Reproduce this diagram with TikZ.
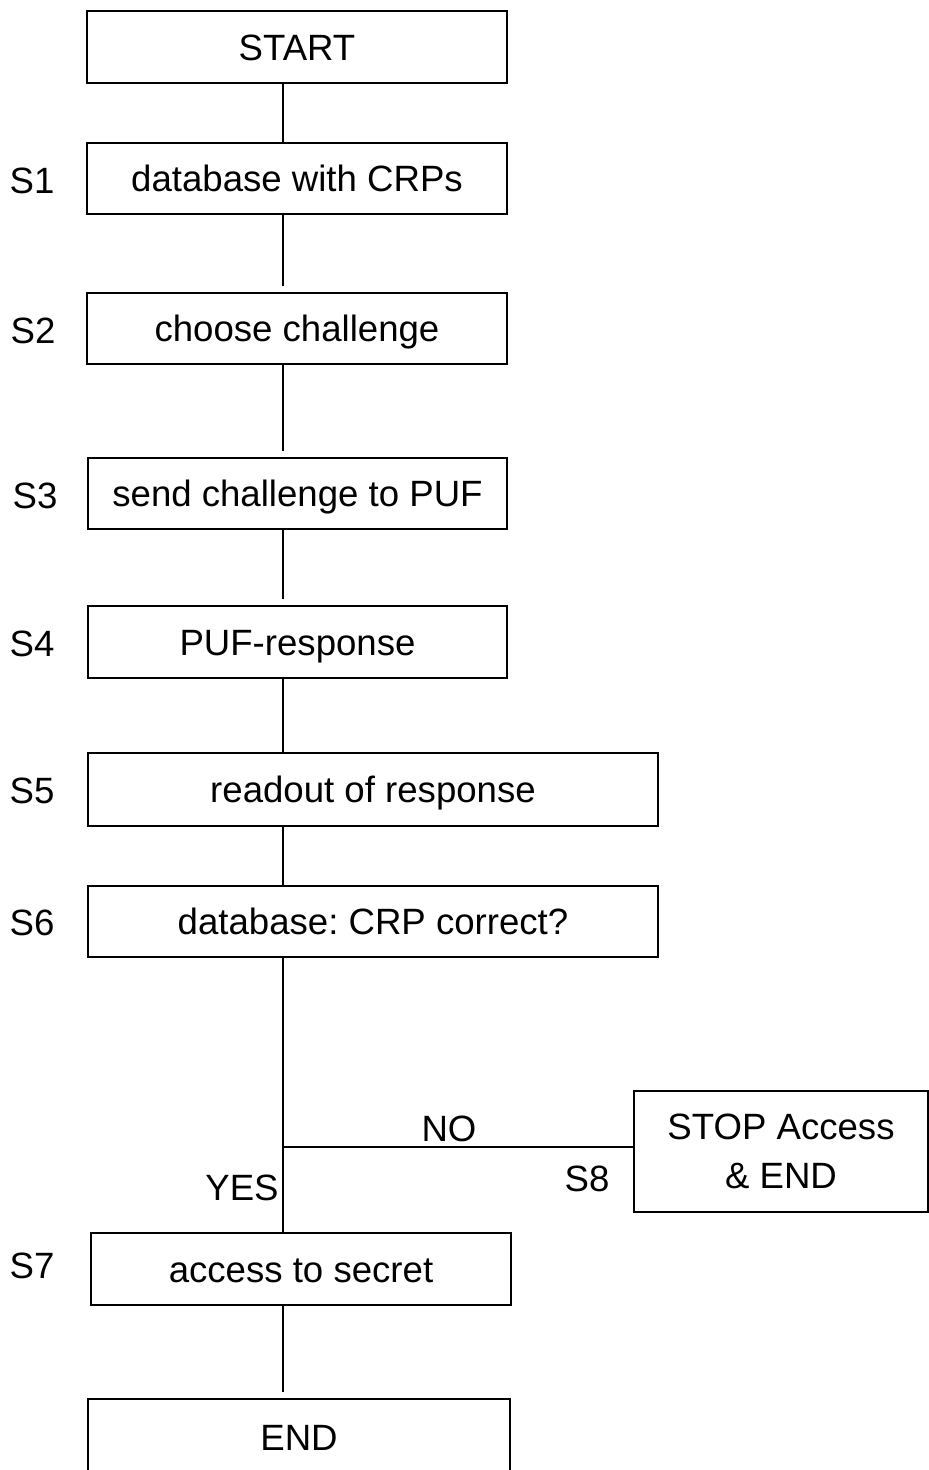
\documentclass[tikz,border=0pt]{standalone}
\usepackage{fontspec}
\setmainfont{Liberation Sans}
\newcommand{\diagfont}{\fontsize{18.3pt}{24.5pt}\selectfont\frenchspacing}
\begin{document}
\begin{tikzpicture}[x=0.5pt,y=-0.5pt,
  box/.style={draw, line width=1pt, inner sep=0pt, outer sep=0pt,
    text height=13.1pt, text depth=0pt, font=\diagfont},
  lbl/.style={inner sep=0pt, text height=13.1pt, text depth=0pt, font=\diagfont},
  conn/.style={draw, line width=0.8pt},
  gap/.style={shorten >=3.5pt}
]
\clip (0,0) rectangle (929,1470);
% boxes
\node[box, minimum width=210pt, minimum height=36pt] (start) at (297,47) {START};
\node[box, minimum width=210pt, minimum height=35.5pt] (s1) at (297,178.5) {database with CRPs};
\node[box, minimum width=210pt, minimum height=35.5pt] (s2) at (297,328.5) {choose challenge};
\node[box, minimum width=209.5pt, minimum height=35.5pt] (s3) at (297.5,493.5) {send challenge to PUF};
\node[box, minimum width=209.5pt, minimum height=36pt] (s4) at (297.5,642) {PUF-response};
\node[box, minimum width=285pt, minimum height=36.5pt] (s5) at (373,789.5) {readout of response};
\node[box, minimum width=285pt, minimum height=35.5pt] (s6) at (373,921.5) {database: CRP correct?};
\node[draw, line width=1pt, inner sep=0pt, outer sep=0pt, align=center, font=\diagfont,
  minimum width=147pt, minimum height=60.5pt] (stop) at (781,1151.5) {STOP Access\\\& END};
\node[box, minimum width=210pt, minimum height=36pt] (s7) at (301,1269) {access to secret};
\node[box, minimum width=211pt, minimum height=45.5pt] (end) at (299,1444.5) {};
\node[lbl] (endtxt) at (299,1437) {END};
% step labels
\node[lbl] (l1) at (32,180) {S1};
\node[lbl] (l2) at (33,330) {S2};
\node[lbl] (l3) at (35,495) {S3};
\node[lbl] (l4) at (32,643) {S4};
\node[lbl] (l5) at (32,790) {S5};
\node[lbl] (l6) at (32,922) {S6};
\node[lbl] (l7) at (32,1265) {S7};
\node[lbl] (l8) at (587,1178) {S8};
\node[lbl] (no) at (449,1128) {NO};
\node[lbl] (yes) at (242,1187) {YES};
% connectors
\coordinate (spine) at (283,0);
\coordinate (junc) at (283,1147);
\draw[conn] (start.south -| spine) -- (s1.north -| spine);
\draw[conn, gap] (s1.south -| spine) -- (s2.north -| spine);
\draw[conn, gap] (s2.south -| spine) -- (s3.north -| spine);
\draw[conn, gap] (s3.south -| spine) -- (s4.north -| spine);
\draw[conn] (s4.south -| spine) -- (s5.north -| spine);
\draw[conn] (s5.south -| spine) -- (s6.north -| spine);
\draw[conn] (s6.south -| spine) -- (s7.north -| spine);
\draw[conn] (junc) -- (junc -| stop.west);
\draw[conn, gap] (s7.south -| spine) -- (end.north -| spine);
\end{tikzpicture}
\end{document}
